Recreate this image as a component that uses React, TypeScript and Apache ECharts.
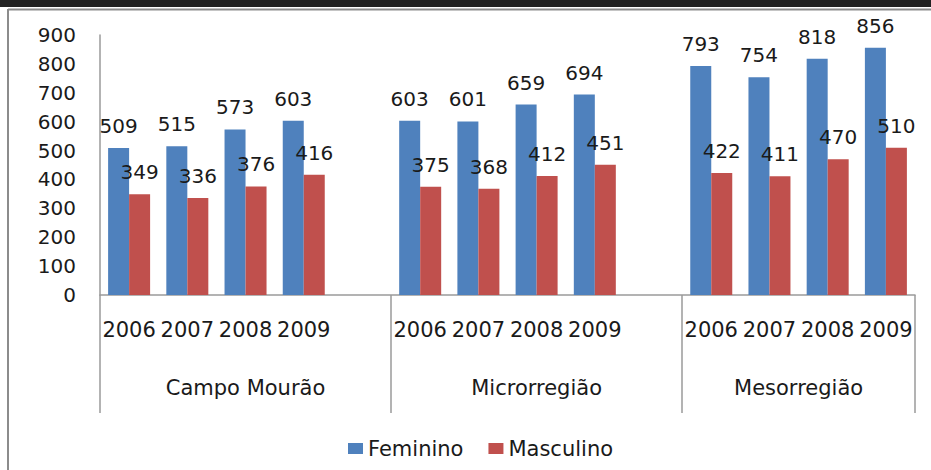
import React, { useEffect, useRef } from "react";
import * as echarts from "echarts";

const regions = ["Campo Mourão", "Microrregião", "Mesorregião"];
const years = ["2006", "2007", "2008", "2009"];
const femininoCampoMourao = [509, 515, 573, 603];
const masculinoCampoMourao = [349, 336, 376, 416];
const femininoMicro = [603, 601, 659, 694];
const masculinoMicro = [375, 368, 412, 451];
const femininoMeso = [793, 754, 818, 856];
const masculinoMeso = [422, 411, 470, 510];
const yTicks = [0, 100, 200, 300, 400, 500, 600, 700, 800, 900];

const FONT = "DejaVu Sans";
const TEXT = "#1a1a1a";
const AXIS = "#9a9a9a";

export default function App() {
  const ref = useRef<HTMLDivElement>(null);
  useEffect(() => {
    if (!ref.current) return;
    const chart = echarts.init(ref.current, undefined, { renderer: "svg" });

    // 14 category slots: 4 years + blank, 4 years + blank, 4 years
    const categories: string[] = [];
    const fem: (number | null)[] = [];
    const mas: (number | null)[] = [];
    const femGroups = [femininoCampoMourao, femininoMicro, femininoMeso];
    const masGroups = [masculinoCampoMourao, masculinoMicro, masculinoMeso];
    const groupStarts: number[] = [];
    const regionCenters: number[] = [];
    regions.forEach((_, gi) => {
      const start = categories.length;
      groupStarts.push(start);
      years.forEach((y, yi) => {
        categories.push(y);
        fem.push(femGroups[gi][yi]);
        mas.push(masGroups[gi][yi]);
      });
      let end = categories.length;
      if (gi < regions.length - 1) {
        categories.push(" ");
        fem.push(null);
        mas.push(null);
        end = categories.length;
      }
      regionCenters.push((start + end) / 2);
    });

    const labelStyle = {
      show: true,
      position: "top" as const,
      distance: 12,
      fontFamily: FONT,
      fontSize: 20,
      color: TEXT,
    };

    chart.setOption({
      animation: false,
      backgroundColor: "#ffffff",
      textStyle: { fontFamily: FONT },
      graphic: [
        { type: "rect", left: 0, top: 0, shape: { width: 931, height: 7 }, style: { fill: "#222222" } },
        { type: "line", shape: { x1: 8, y1: 9.5, x2: 931, y2: 9.5 }, style: { stroke: "#8c8c8c", lineWidth: 2 } },
        { type: "line", shape: { x1: 8, y1: 9, x2: 8, y2: 470 }, style: { stroke: "#8c8c8c", lineWidth: 2 } },
      ],
      legend: {
        data: ["Feminino", "Masculino"],
        left: 343,
        top: 433,
        icon: "rect",
        itemWidth: 15,
        itemHeight: 11,
        itemGap: 25,
        textStyle: { fontFamily: FONT, fontSize: 21, color: TEXT },
      },
      grid: { left: 100, right: 16, top: 35, bottom: 175, containLabel: false },
      xAxis: [
        {
          type: "category",
          data: categories,
          position: "bottom",
          axisLine: { show: true, lineStyle: { color: AXIS, width: 1.5 } },
          axisTick: {
            show: true,
            length: 118,
            interval: (index: number) => groupStarts.includes(index),
            lineStyle: { color: AXIS, width: 1.5 },
          },
          axisLabel: {
            interval: 0,
            margin: 24,
            fontFamily: FONT,
            fontSize: 21,
            color: TEXT,
          },
          splitLine: { show: false },
        },
        {
          type: "value",
          position: "bottom",
          min: 0,
          max: categories.length,
          axisLine: { show: false },
          axisTick: { show: false },
          splitLine: { show: false },
          axisLabel: {
            customValues: regionCenters,
            margin: 82,
            fontFamily: FONT,
            fontSize: 21,
            color: TEXT,
            formatter: (v: number) => {
              const i = regionCenters.findIndex((c) => Math.abs(c - v) < 1e-6);
              return i >= 0 ? regions[i] : "";
            },
          },
        },
      ],
      yAxis: {
        type: "value",
        min: 0,
        max: yTicks[yTicks.length - 1],
        interval: 100,
        axisLine: { show: true, lineStyle: { color: AXIS, width: 1.5 } },
        axisTick: { show: false },
        splitLine: { show: false },
        axisLabel: {
          margin: 24,
          fontFamily: FONT,
          fontSize: 20,
          color: TEXT,
        },
      },
      series: [
        {
          name: "Feminino",
          type: "bar",
          xAxisIndex: 0,
          data: fem,
          barWidth: 21,
          barGap: "0%",
          itemStyle: { color: "#4F81BD" },
          label: labelStyle,
        },
        {
          name: "Masculino",
          type: "bar",
          xAxisIndex: 0,
          data: mas,
          barWidth: 21,
          barGap: "0%",
          itemStyle: { color: "#C0504D" },
          label: labelStyle,
        },
      ],
    });
    return () => chart.dispose();
  }, []);
  return (
    <div
      ref={ref}
      style={{ position: "fixed", left: 0, top: 0, width: 931, height: 470 }}
    />
  );
}
